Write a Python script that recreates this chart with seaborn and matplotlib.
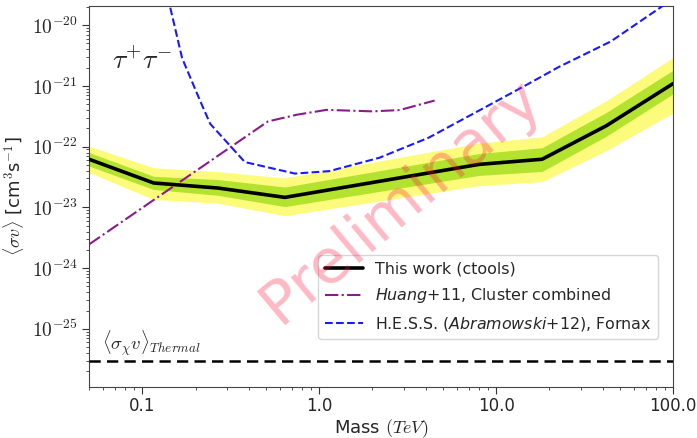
import numpy as np
import pandas as pd
import matplotlib
matplotlib.use("Agg")
import matplotlib.pyplot as plt
from matplotlib.ticker import FixedLocator, FixedFormatter, LogLocator, NullFormatter
import seaborn as sns

# --- tau+tau- channel: upper limits on <sigma v> vs dark-matter mass ---
mass_this_work = [0.05, 0.116, 0.268, 0.64, 8.0, 18.2, 42.0, 100.0]
limit_this_work = [6.2e-23, 2.52e-23, 2.08e-23, 1.46e-23, 5.1e-23, 6.2e-23, 2.21e-22, 1.09e-21]
band1_low = [4.8e-23, 1.97e-23, 1.58e-23, 1.03e-23, 3.36e-23, 3.91e-23, 1.49e-22, 7.4e-22]
band1_high = [8.0e-23, 3.25e-23, 2.87e-23, 2.16e-23, 7.7e-23, 9.6e-23, 3.66e-22, 1.81e-21]
band2_low = [3.75e-23, 1.35e-23, 1.17e-23, 7.3e-24, 2.28e-23, 2.65e-23, 8.6e-23, 3.6e-22]
band2_high = [1.02e-22, 4.48e-23, 3.87e-23, 3.05e-23, 1.14e-22, 1.45e-22, 5.69e-22, 2.93e-21]

mass_huang = [0.05, 0.513, 0.75, 1.10, 2.0, 2.85, 4.49]
limit_huang = [2.45e-24, 2.6e-22, 3.36e-22, 4.03e-22, 3.81e-22, 4.0e-22, 5.74e-22]

mass_hess = [0.144, 0.168, 0.212, 0.242, 0.38, 0.73, 1.14, 2.19, 4.17, 8.0, 15.3, 22.6, 44.5, 90.0]
limit_hess = [1.94e-20, 2.86e-21, 5.75e-22, 2.38e-22, 5.57e-23, 3.6e-23, 3.95e-23, 6.56e-23,
              1.41e-22, 3.92e-22, 1.09e-21, 2.05e-21, 5.4e-21, 2.2e-20]

thermal_xsec = 3e-26

x_tick_values = [0.1, 1.0, 10.0, 100.0]
x_tick_labels = ["0.1", "1.0", "10.0", "100.0"]
y_tick_values = [1e-25, 1e-24, 1e-23, 1e-22, 1e-21, 1e-20]
y_tick_labels = [r"$10^{-25}$", r"$10^{-24}$", r"$10^{-23}$", r"$10^{-22}$",
                 r"$10^{-21}$", r"$10^{-20}$"]

label_this_work = "This work (ctools)"
label_huang = r"$\mathit{Huang{+}11}$, Cluster combined"
label_hess = r"H.E.S.S. ($\mathit{Abramowski{+}12}$), Fornax"

sns.set_style("ticks")
plt.rcParams["font.family"] = ["DejaVu Sans"]
plt.rcParams["mathtext.fontset"] = "cm"
plt.rcParams["xtick.direction"] = "out"
plt.rcParams["ytick.direction"] = "out"

fig = plt.figure(figsize=(6.97, 4.38), dpi=100)
ax = fig.add_axes([0.1277, 0.1164, 0.8379, 0.8699])
ax.set_xscale("log")
ax.set_yscale("log")

# sensitivity bands
ax.fill_between(mass_this_work, band2_low, band2_high, color="#fdfb7c", lw=0, zorder=1)
ax.fill_between(mass_this_work, band1_low, band1_high, color="#b3e22f", lw=0, zorder=2)

df_tw = pd.DataFrame({"mass": mass_this_work, "limit": limit_this_work})
df_hu = pd.DataFrame({"mass": mass_huang, "limit": limit_huang})
df_he = pd.DataFrame({"mass": mass_hess, "limit": limit_hess})

sns.lineplot(data=df_tw, x="mass", y="limit", ax=ax, color="black", lw=2.6,
             label=label_this_work, zorder=5)
sns.lineplot(data=df_hu, x="mass", y="limit", ax=ax, color="#8b1a8b", lw=1.5,
             linestyle="-.", label=label_huang, zorder=4)
sns.lineplot(data=df_he, x="mass", y="limit", ax=ax, color="#1a1aff", lw=1.5,
             linestyle="--", label=label_hess, zorder=4)

ax.axhline(thermal_xsec, color="black", lw=1.8, ls=(0, (4.5, 2.5)), zorder=3)
ax.text(0.0595, thermal_xsec * 1.1, r"$\langle\sigma_\chi v\rangle_{Thermal}$",
        fontsize=13.5, ha="left", va="bottom")
ax.text(0.1, 2.6e-21, r"$\tau^{+}\tau^{-}$", fontsize=20, ha="center", va="center")

ax.set_xlim(0.05, 100)
ax.set_ylim(1.1e-26, 2.07e-20)

ax.xaxis.set_major_locator(FixedLocator(x_tick_values))
ax.xaxis.set_major_formatter(FixedFormatter(x_tick_labels))
ax.xaxis.set_minor_locator(LogLocator(base=10, subs=np.arange(2, 10)))
ax.xaxis.set_minor_formatter(NullFormatter())
ax.yaxis.set_major_locator(FixedLocator(y_tick_values))
ax.yaxis.set_major_formatter(FixedFormatter(y_tick_labels))
ax.yaxis.set_minor_locator(LogLocator(base=10, subs=np.arange(2, 10), numticks=15))
ax.yaxis.set_minor_formatter(NullFormatter())
ax.tick_params(axis="y", which="major", labelsize=14, length=5, width=0.8,
               color="#333333", pad=3)
ax.tick_params(axis="x", which="major", labelsize=12, length=5, width=0.8,
               color="#333333", pad=2.5)
ax.tick_params(axis="both", which="minor", length=2.5, width=0.6, color="#333333")
for s in ax.spines.values():
    s.set_linewidth(0.8)
    s.set_color("#444444")

ax.set_xlabel(r"Mass $(TeV)$", fontsize=13, labelpad=1)
ax.set_ylabel(r"$\langle\sigma v\rangle$ [cm$^3$s$^{-1}$]", fontsize=13, labelpad=4)

leg = ax.legend(loc="lower right", bbox_to_anchor=(0.975, 0.125), borderaxespad=0,
                fontsize=11.4, handlelength=2.4, labelspacing=0.62, frameon=True,
                framealpha=0.8, edgecolor="#cccccc", fancybox=True)
for t in leg.get_texts():
    t.set_math_fontfamily("dejavusans")

fig.text(0.576, 0.54, "Preliminary", fontsize=44, color="#ff143c", alpha=0.3,
         rotation=40, ha="center", va="center", zorder=10)

fig.savefig("out.png", dpi=100)
